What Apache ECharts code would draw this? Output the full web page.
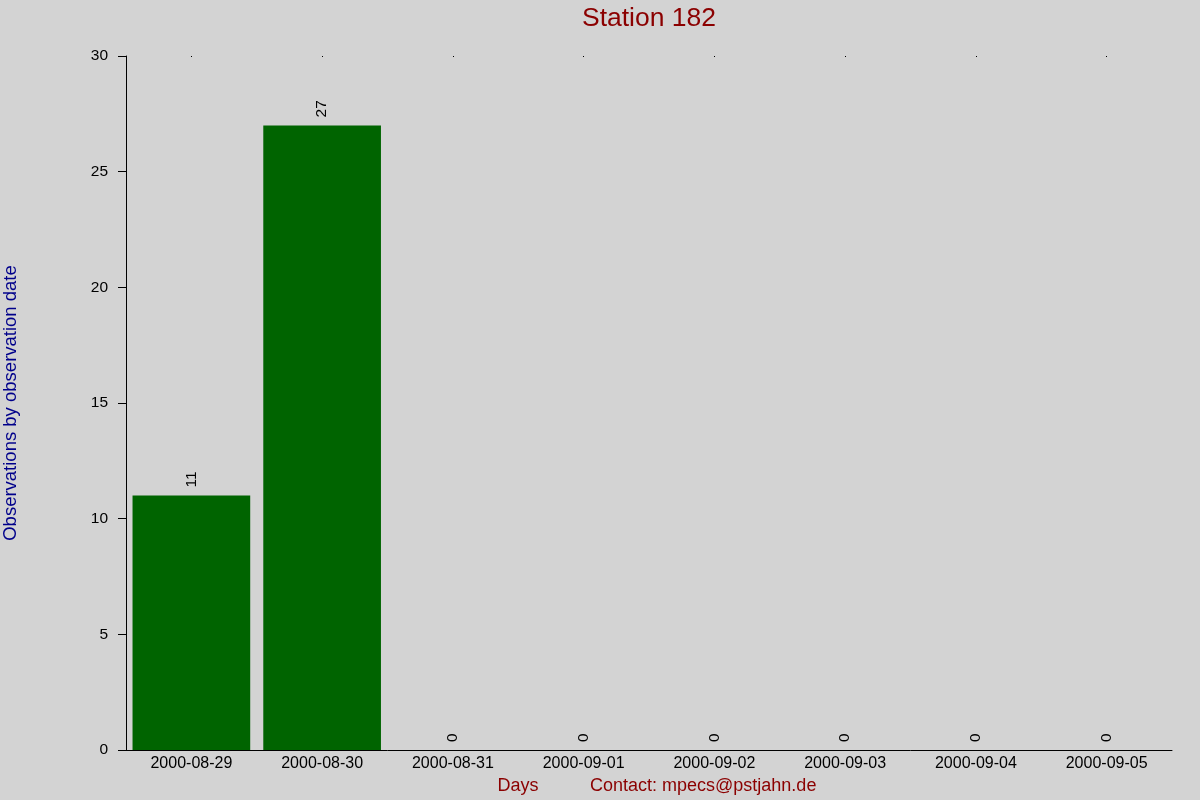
<!DOCTYPE html>
<html lang="en">
<head>
    <meta charset="UTF-8">
    <title>Station 182</title>
    <script src="https://cdn.jsdelivr.net/npm/echarts@6/dist/echarts.min.js"></script>
    <style>
        html, body { margin: 0; padding: 0; background: #d3d3d3; }
    </style>
</head>
<body>
<div id="main" style="width: 1200px;height: 800px;"></div>

<script type="text/javascript">
    // data
    var days = ['2000-08-29', '2000-08-30', '2000-08-31', '2000-09-01',
                '2000-09-02', '2000-09-03', '2000-09-04', '2000-09-05'];
    var counts = [11, 27, 0, 0, 0, 0, 0, 0];

    var myChart = echarts.init(document.getElementById('main'));
    var font = 'Liberation Sans, Arial, sans-serif';

    var option = {
        backgroundColor: '#d3d3d3',
        animation: false,
        textStyle: {fontFamily: font},
        grid: {left: 126, right: 28, top: 56, bottom: 50},
        xAxis: [
            {
                type: 'category',
                data: days,
                axisLine: {lineStyle: {color: '#000', width: 1}},
                axisTick: {show: false},
                axisLabel: {color: '#000', fontSize: 16, margin: 6}
            },
            {
                // the little dots along the top edge
                type: 'category',
                position: 'top',
                data: days,
                axisLine: {show: false},
                axisTick: {show: true, inside: true, length: 1, alignWithLabel: true, lineStyle: {color: '#000'}},
                axisLabel: {show: false}
            }
        ],
        yAxis: {
            type: 'value',
            min: 0,
            max: 30,
            interval: 5,
            splitLine: {show: false},
            axisLine: {show: true, lineStyle: {color: '#000', width: 1}},
            axisTick: {show: true, length: 8, lineStyle: {color: '#000'}},
            axisLabel: {color: '#000', fontSize: 15.5, margin: 18}
        },
        series: [{
            type: 'bar',
            data: counts,
            barCategoryGap: '10%',
            itemStyle: {color: '#006400', borderWidth: 0},
            label: {
                show: true,
                position: 'top',
                rotate: 90,
                align: 'left',
                verticalAlign: 'middle',
                distance: 8,
                color: '#000',
                fontSize: 15.5
            }
        }],
        graphic: [
            {
                type: 'text',
                x: 649,
                y: 19,
                style: {
                    text: 'Station 182',
                    fill: '#8b0000',
                    font: '26.5px ' + font,
                    textAlign: 'center',
                    textVerticalAlign: 'middle'
                }
            },
            {
                type: 'text',
                x: 11,
                y: 403,
                rotation: Math.PI / 2,
                style: {
                    text: 'Observations by observation date',
                    fill: '#00008b',
                    font: '18.5px ' + font,
                    textAlign: 'center',
                    textVerticalAlign: 'middle'
                }
            },
            {
                type: 'text',
                x: 518,
                y: 786,
                style: {
                    text: 'Days',
                    fill: '#8b0000',
                    font: '18px ' + font,
                    textAlign: 'center',
                    textVerticalAlign: 'middle'
                }
            },
            {
                type: 'text',
                x: 590,
                y: 786,
                style: {
                    text: 'Contact: mpecs@pstjahn.de',
                    fill: '#8b0000',
                    font: '18px ' + font,
                    textAlign: 'left',
                    textVerticalAlign: 'middle'
                }
            }
        ]
    };

    myChart.setOption(option);
</script>
</body>
</html>
